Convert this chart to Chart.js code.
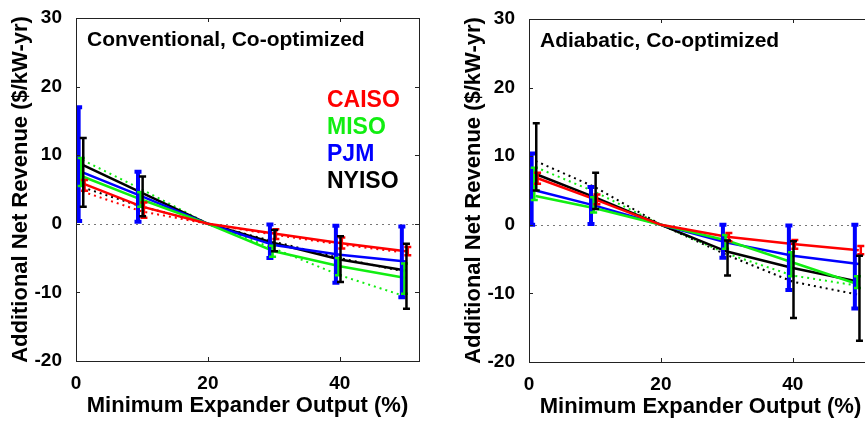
<!DOCTYPE html>
<html>
<head>
<meta charset="utf-8">
<script src="https://cdn.jsdelivr.net/npm/chart.js@4/dist/chart.umd.min.js"></script>
<style>
    html, body { margin: 0; padding: 0; background: #fff; overflow: hidden; }
    body { width: 865px; height: 421px; position: relative; }
    .panel { position: absolute; width: 440px; height: 421px; }
    #conv { left: 0; top: 0; }
    #adia { left: 453px; top: 1px; }
</style>
</head>
<body>
<div class="panel" id="conv"><canvas id="convChart"></canvas></div>
<div class="panel" id="adia"><canvas id="adiaChart"></canvas></div>
<script>
// ==================== DATA ====================
const xValues = [1, 10, 20, 30, 40, 50];
const xTicks = [0, 20, 40];
const yTicks = [-20, -10, 0, 10, 20, 30];
const regions = ['CAISO', 'MISO', 'PJM', 'NYISO'];
const regionColors = ['#ff0000', '#11ee11', '#0000ff', '#000000'];
const errOffsets = [0.3, -0.2, -0.6, 0.1];   // small sideways shift of each region's bars
const errWidths = [2.5, 2.5, 4, 2.5];

// Conventional, Co-optimized (solid lines)
const convCaiso = [5.9, 2.5, 0, -1.4, -2.8, -4.0];
const convMiso  = [6.9, 3.5, 0, -4.0, -6.2, -7.9];
const convPjm   = [7.5, 4.0, 0, -3.1, -4.5, -5.5];
const convNyiso = [8.6, 4.5, 0, -2.8, -5.2, -6.8];
// error bar ranges (null = no bar)
const convCaisoLo = [4.8, 0.9, null, -2.2, -3.6, -4.6];
const convCaisoHi = [6.4, 3.1, null, -0.8, -2.0, -3.4];
const convMisoLo  = [5.5, 2.5, null, -4.8, -7.5, -10.2];
const convMisoHi  = [9.6, 4.6, null, -3.2, -5.0, -5.8];
const convPjmLo   = [0.4, 0.3, null, -5.0, -8.6, -10.7];
const convPjmHi   = [17.0, 7.6, null, -0.1, -0.3, -0.4];
const convNyisoLo = [2.5, 1.1, null, -4.0, -8.5, -12.4];
const convNyisoHi = [12.5, 6.9, null, -0.9, -1.8, -2.9];
// dotted lines
const convCaisoDot = [4.7, 1.8, 0, -1.6, -3.0, -4.2];
const convMisoDot  = [9.3, 5.0, 0, -3.6, -7.5, -10.6];
const convNyisoDot = [5.3, 2.5, 0, -2.6, -5.0, -7.0];

// Adiabatic, Co-optimized (solid lines)
const adiaCaiso = [6.9, 3.7, 0, -1.75, -2.8, -3.7];
const adiaMiso  = [4.2, 2.4, 0, -2.3, -5.5, -8.7];
const adiaPjm   = [5.0, 2.8, 0, -2.6, -4.5, -5.7];
const adiaNyiso = [7.4, 4.0, 0, -3.9, -6.3, -8.3];
const adiaCaisoLo = [6.0, 3.0, null, -2.4, -3.5, -4.3];
const adiaCaisoHi = [7.6, 4.4, null, -1.2, -2.2, -3.1];
const adiaMisoLo  = [3.6, 1.8, null, -3.5, -7.5, -9.2];
const adiaMisoHi  = [8.3, 4.0, null, -1.5, -4.0, -7.5];
const adiaPjmLo   = [0.0, 0.1, null, -4.8, -9.5, -12.2];
const adiaPjmHi   = [10.4, 5.5, null, 0.0, -0.1, 0.0];
const adiaNyisoLo = [5.0, 2.3, null, -7.4, -13.6, -16.9];
const adiaNyisoHi = [14.8, 7.6, null, -2.3, -2.4, -4.5];
const adiaMisoDot  = [8.4, 4.8, 0, -4.2, -7.4, -8.9];
const adiaNyisoDot = [9.3, 5.5, 0, -4.4, -8.3, -10.2];

const FONT = "'Liberation Sans', Arial, sans-serif";

// ==================== DECORATION PLUGIN ====================
const decorPlugin = {
    id: 'decor',
    beforeDatasetsDraw(chart) {
        const { ctx, chartArea, scales: { y } } = chart;
        const y0 = Math.round(y.getPixelForValue(0)) + 0.5;
        ctx.save();
        ctx.strokeStyle = '#777';
        ctx.lineWidth = 1;
        ctx.setLineDash([2, 4]);
        ctx.beginPath();
        ctx.moveTo(chartArea.left, y0);
        ctx.lineTo(chartArea.right, y0);
        ctx.stroke();
        ctx.restore();
    },
    afterDatasetsDraw(chart, args, opts) {
        const { ctx, chartArea, scales: { x, y } } = chart;
        ctx.save();
        ctx.beginPath();
        ctx.rect(chartArea.left, chartArea.top, chartArea.right - chartArea.left, chartArea.bottom - chartArea.top);
        ctx.clip();
        // draw blue first so the thinner bars sit on top
        [2, 1, 0, 3].forEach(s => {
            const err = opts.errors[s];
            ctx.strokeStyle = regionColors[s];
            ctx.lineWidth = errWidths[s];
            xValues.forEach((xv, i) => {
                if (err.lo[i] === null) return;
                const px = x.getPixelForValue(xv + errOffsets[s]);
                const top = y.getPixelForValue(err.hi[i]);
                const bot = y.getPixelForValue(err.lo[i]);
                ctx.beginPath();
                ctx.moveTo(px, top); ctx.lineTo(px, bot);
                ctx.moveTo(px - 3.5, top); ctx.lineTo(px + 3.5, top);
                ctx.moveTo(px - 3.5, bot); ctx.lineTo(px + 3.5, bot);
                ctx.stroke();
            });
        });
        ctx.restore();
    },
    afterDraw(chart, args, opts) {
        const { ctx, chartArea, scales: { x, y } } = chart;
        const { left, right, top, bottom } = chartArea;
        ctx.save();
        // frame
        ctx.strokeStyle = '#222';
        ctx.lineWidth = 1;
        ctx.strokeRect(Math.round(left) + 0.5, Math.round(top) + 0.5, Math.round(right - left), Math.round(bottom - top));
        // inward ticks on all four sides
        ctx.beginPath();
        xTicks.forEach(v => {
            const px = Math.round(x.getPixelForValue(v)) + 0.5;
            ctx.moveTo(px, bottom); ctx.lineTo(px, bottom - 4);
            ctx.moveTo(px, top); ctx.lineTo(px, top + 4);
        });
        yTicks.forEach(v => {
            const py = Math.round(y.getPixelForValue(v)) + 0.5;
            ctx.moveTo(left, py); ctx.lineTo(left + 4, py);
            ctx.moveTo(right, py); ctx.lineTo(right - 4, py);
        });
        ctx.stroke();

        // panel title
        ctx.fillStyle = '#000';
        ctx.font = 'bold 21px ' + FONT;
        ctx.textBaseline = 'alphabetic';
        ctx.fillText(opts.title, left + 11, top + 28);

        // legend as coloured words
        if (opts.legend) {
            ctx.font = 'bold 23px ' + FONT;
            regions.forEach((name, i) => {
                ctx.fillStyle = regionColors[i];
                ctx.fillText(name, left + 251, top + 89 + i * 27);
            });
        }
        ctx.restore();
    }
};

// ==================== CHART BUILDER ====================
function buildChart(canvasId, solid, dotted, errors, title, legend) {
    const datasets = [];
    solid.forEach((vals, s) => {
        datasets.push({
            label: regions[s],
            data: xValues.map((xv, i) => ({ x: xv, y: vals[i] })),
            borderColor: regionColors[s],
            borderWidth: 2.5,
            pointRadius: 0,
            fill: false,
            tension: 0
        });
    });
    dotted.forEach(d => {
        datasets.push({
            label: regions[d.series] + ' (dotted)',
            data: xValues.map((xv, i) => ({ x: xv, y: d.values[i] })),
            borderColor: regionColors[d.series],
            borderWidth: 2,
            borderDash: [2, 4],
            pointRadius: 0,
            fill: false,
            tension: 0
        });
    });

    return new Chart(document.getElementById(canvasId), {
        type: 'line',
        data: { datasets },
        options: {
            responsive: true,
            maintainAspectRatio: false,
            animation: false,
            layout: { padding: { top: 18, right: 21, left: 0, bottom: 0 } },
            plugins: {
                legend: { display: false },
                tooltip: { enabled: false },
                decor: { title, legend, errors }
            },
            scales: {
                x: {
                    type: 'linear',
                    min: 0,
                    max: 52,
                    grid: { display: false },
                    border: { display: false },
                    ticks: {
                        stepSize: 20,
                        includeBounds: false,
                        padding: 3,
                        color: '#000',
                        font: { family: FONT, size: 19, weight: 'bold' }
                    },
                    title: {
                        display: true,
                        text: 'Minimum Expander Output (%)',
                        color: '#000',
                        font: { family: FONT, size: 22, weight: 'bold' },
                        padding: { top: 0, bottom: 2 }
                    },
                    afterFit: s => { s.height = 60; }
                },
                y: {
                    min: -20,
                    max: 30,
                    grid: { display: false },
                    border: { display: false },
                    ticks: {
                        stepSize: 10,
                        padding: 6,
                        color: '#000',
                        font: { family: FONT, size: 19, weight: 'bold' }
                    },
                    title: {
                        display: true,
                        text: 'Additional Net Revenue ($/kW-yr)',
                        color: '#000',
                        font: { family: FONT, size: 22, weight: 'bold' },
                        padding: { top: 8, bottom: 0 }
                    },
                    afterFit: s => { s.width = 76; }
                }
            }
        },
        plugins: [decorPlugin]
    });
}

buildChart('convChart',
    [convCaiso, convMiso, convPjm, convNyiso],
    [
        { series: 0, values: convCaisoDot },
        { series: 1, values: convMisoDot },
        { series: 3, values: convNyisoDot }
    ],
    [
        { lo: convCaisoLo, hi: convCaisoHi },
        { lo: convMisoLo, hi: convMisoHi },
        { lo: convPjmLo, hi: convPjmHi },
        { lo: convNyisoLo, hi: convNyisoHi }
    ],
    'Conventional, Co-optimized', true);

buildChart('adiaChart',
    [adiaCaiso, adiaMiso, adiaPjm, adiaNyiso],
    [
        { series: 1, values: adiaMisoDot },
        { series: 3, values: adiaNyisoDot }
    ],
    [
        { lo: adiaCaisoLo, hi: adiaCaisoHi },
        { lo: adiaMisoLo, hi: adiaMisoHi },
        { lo: adiaPjmLo, hi: adiaPjmHi },
        { lo: adiaNyisoLo, hi: adiaNyisoHi }
    ],
    'Adiabatic, Co-optimized', false);
</script>
</body>
</html>
